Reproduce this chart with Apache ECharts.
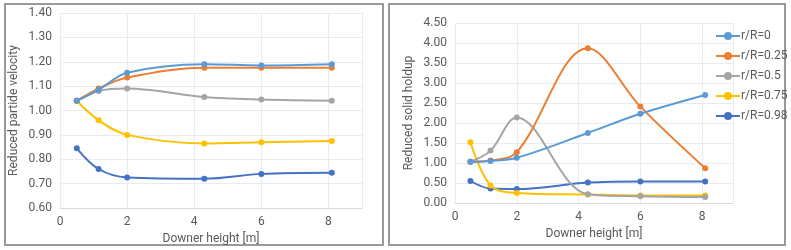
<!DOCTYPE html>
<html>
<head>
<meta charset="utf-8">
<script src="https://cdn.jsdelivr.net/npm/echarts@6/dist/echarts.min.js"></script>
<style>
  html, body { margin: 0; padding: 0; background: #fff; }
  #main { width: 791px; height: 250px; }
</style>
</head>
<body>
<div id="main"></div>
<script>
// 数据：下行管高度与各径向位置的结果
const heights = [0.5, 1.15, 2, 4.3, 6, 8.1];
const seriesNames = ['r/R=0', 'r/R=0.25', 'r/R=0.5', 'r/R=0.75', 'r/R=0.98'];
const colors = ['#5b9bd5', '#ed7d31', '#a5a5a5', '#ffc000', '#4472c4'];

// 左图：Reduced particle velocity
const velR0 = [1.04, 1.085, 1.155, 1.19, 1.185, 1.19];
const velR025 = [1.04, 1.09, 1.135, 1.175, 1.175, 1.175];
const velR05 = [1.04, 1.08, 1.09, 1.055, 1.045, 1.04];
const velR075 = [1.04, 0.96, 0.90, 0.865, 0.87, 0.875];
const velR098 = [0.845, 0.76, 0.725, 0.72, 0.74, 0.745];

// 右图：Reduced solid holdup
const holdR0 = [1.03, 1.05, 1.13, 1.75, 2.23, 2.70];
const holdR025 = [1.03, 1.06, 1.27, 3.87, 2.41, 0.87];
const holdR05 = [1.03, 1.31, 2.14, 0.22, 0.17, 0.15];
const holdR075 = [1.52, 0.44, 0.25, 0.21, 0.19, 0.19];
const holdR098 = [0.55, 0.36, 0.35, 0.51, 0.54, 0.54];

const velData = [velR0, velR025, velR05, velR075, velR098];
const holdData = [holdR0, holdR025, holdR05, holdR075, holdR098];

const textColor = '#595959';
const font = 'Roboto';

function pairs(ys) {
  return ys.map((y, i) => [heights[i], y]);
}

function makeSeries(list, idx) {
  return list.map((ys, i) => ({
    name: seriesNames[i],
    type: 'line',
    xAxisIndex: idx,
    yAxisIndex: idx,
    data: pairs(ys),
    smooth: 0.35,
    symbol: 'circle',
    symbolSize: 6,
    lineStyle: { width: 2, color: colors[i] },
    itemStyle: { color: colors[i] },
    z: 10 - i
  }));
}

function xAxis(gridIndex) {
  return {
    type: 'value',
    gridIndex: gridIndex,
    min: 0, max: 9, interval: 2,
    name: 'Downer height [m]',
    nameLocation: 'middle',
    nameGap: 22,
    nameTextStyle: { color: textColor, fontSize: 12, fontFamily: font },
    axisLine: { lineStyle: { color: '#d9d9d9' } },
    axisTick: { show: false },
    axisLabel: { color: textColor, fontSize: 12, fontFamily: font, showMaxLabel: false, margin: 8 },
    splitLine: { lineStyle: { color: '#e8ecf2' } }
  };
}

function yAxis(gridIndex, min, max, interval, name, gap) {
  return {
    type: 'value',
    gridIndex: gridIndex,
    min: min, max: max, interval: interval,
    name: name,
    nameLocation: 'middle',
    nameGap: gap,
    nameTextStyle: { color: textColor, fontSize: 12, fontFamily: font },
    axisLine: { show: false },
    axisTick: { show: false },
    axisLabel: { color: textColor, fontSize: 12, fontFamily: font, formatter: v => v.toFixed(2), margin: 8 },
    splitLine: { lineStyle: { color: '#e8ecf2' } }
  };
}

const chart = echarts.init(document.getElementById('main'), null, { renderer: 'canvas' });

chart.setOption({
  animation: false,
  backgroundColor: '#fff',
  graphic: [
    { type: 'rect', shape: { x: 5, y: 4, width: 378, height: 241 }, style: { fill: 'none', stroke: '#9a9a9a', lineWidth: 2 } },
    { type: 'rect', shape: { x: 389, y: 4, width: 396, height: 241 }, style: { fill: 'none', stroke: '#9a9a9a', lineWidth: 2 } }
  ],
  legend: {
    data: seriesNames,
    orient: 'vertical',
    left: 710,
    top: 25,
    itemWidth: 24,
    itemHeight: 10,
    itemGap: 8,
    textStyle: { color: textColor, fontSize: 12, fontFamily: font, padding: [0, 0, 0, -4] }
  },
  grid: [
    { left: 60, top: 13, width: 302, height: 195 },
    { left: 455, top: 23, width: 278, height: 180 }
  ],
  xAxis: [xAxis(0), xAxis(1)],
  yAxis: [
    yAxis(0, 0.6, 1.4, 0.1, 'Reduced partide velocity', 40),
    yAxis(1, 0, 4.5, 0.5, 'Reduced solid holdup', 40)
  ],
  series: makeSeries(velData, 0).concat(makeSeries(holdData, 1))
});
</script>
</body>
</html>
